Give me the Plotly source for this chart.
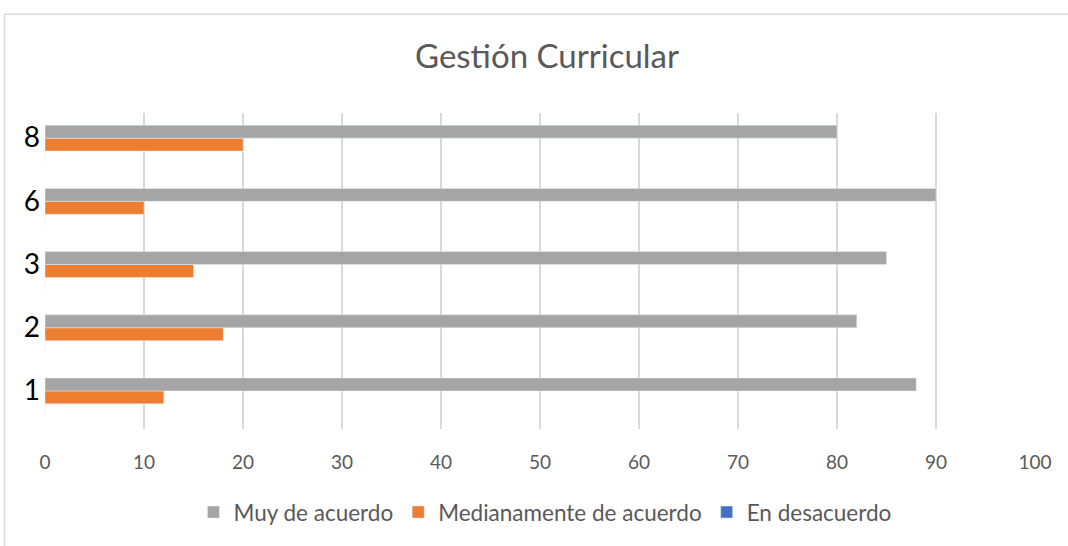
import plotly.graph_objects as go

categories = ["1", "2", "3", "6", "8"]
muy_de_acuerdo = [88, 82, 85, 90, 80]
medianamente = [12, 18, 15, 10, 20]
en_desacuerdo = [0, 0, 0, 0, 0]
x_ticks = [0, 10, 20, 30, 40, 50, 60, 70, 80, 90, 100]

FONT = "Lato"
TXT = "#595959"

fig = go.Figure()
# Traces added bottom-to-top within each group
fig.add_trace(go.Bar(y=categories, x=en_desacuerdo, orientation="h",
                     name="En desacuerdo", marker_color="#4472c4", legendrank=3))
fig.add_trace(go.Bar(y=categories, x=medianamente, orientation="h",
                     name="Medianamente de acuerdo", marker_color="#ed7d31", legendrank=2))
fig.add_trace(go.Bar(y=categories, x=muy_de_acuerdo, orientation="h",
                     name="Muy de acuerdo", marker_color="#a5a5a5", legendrank=1))

fig.update_layout(
    width=1068, height=546,
    margin=dict(l=45, r=33, t=113, b=115),
    paper_bgcolor="white", plot_bgcolor="white",
    barmode="group", bargap=0.386, bargroupgap=0,
    title=dict(text="Gestión Curricular", x=547 / 1068, xref="container",
               y=1 - 56 / 546, yref="container", yanchor="middle", xanchor="center",
               font=dict(family=FONT, size=33, color=TXT)),
    showlegend=True,
    legend=dict(orientation="h", x=0.505, xanchor="center", y=-0.264, yanchor="middle",
                font=dict(family=FONT, size=22.5, color=TXT), traceorder="normal",
                itemclick=False),
    xaxis=dict(range=[0, 100], tickvals=x_ticks, showgrid=True, gridcolor="#d9d9d9",
               gridwidth=1.5, zeroline=False, showline=False, ticks="",
               ticklabelstandoff=20,
               tickfont=dict(family=FONT, size=19, color=TXT), fixedrange=True),
    yaxis=dict(type="category", categoryorder="array", categoryarray=categories,
               range=[-0.5, 4.5], showgrid=False, zeroline=False, showline=False,
               ticks="", ticklabelshift=-7, ticklabelstandoff=4,
               tickfont=dict(family=FONT, size=28, color="black"), fixedrange=True),
    shapes=[dict(type="rect", xref="paper", yref="paper",
                 x0=(4.5 - 45) / 990, x1=(1075 - 45) / 990,
                 y0=(431 - 560) / 318, y1=(431 - 13.5) / 318,
                 line=dict(color="#d9d9d9", width=1.5), layer="below")],
)

fig.write_html("out.html", config={"displayModeBar": False},
               post_script="document.body.style.margin='0';")
